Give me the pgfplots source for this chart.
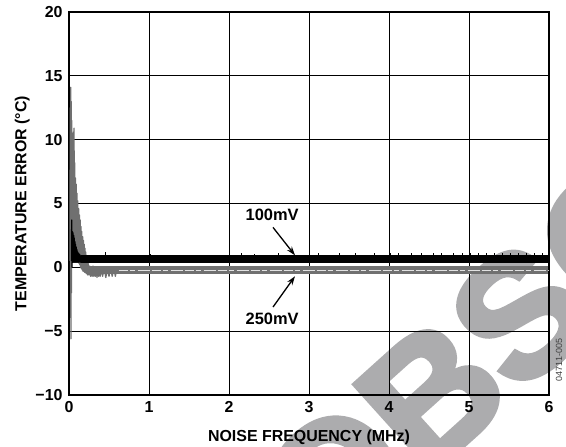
\documentclass[border=0pt]{standalone}
\usepackage{pgfplots}
\pgfplotsset{compat=1.18}
\usepackage{fontspec}
\setmainfont{Liberation Sans}
\newfontfamily\wmfont{Liberation Sans}[BoldFeatures={FakeBold=3}]
\usetikzlibrary{arrows.meta}

\definecolor{trace}{RGB}{112,112,112}
\definecolor{wmark}{RGB}{172,172,174}

\begin{document}
\begin{tikzpicture}
\path[use as bounding box] (0,0) rectangle (566bp,447bp);
\clip (0,0) rectangle (566bp,447bp);
% watermark behind the chart
\node[rotate=42, anchor=base west, text=wmark, inner sep=0pt,
      font=\wmfont\fontsize{172}{172}\selectfont\bfseries]
      at (326bp,-122bp) {OBSOLETE};
\node[rotate=90, text=black!75, font=\fontsize{9}{9}\selectfont] at (559bp,87bp) {04711-005};

\begin{axis}[
    at={(69bp,52bp)}, anchor=south west,
    scale only axis, width=480bp, height=383bp,
    xmin=0, xmax=6, ymin=-10, ymax=20,
    xtick={0,1,2,3,4,5,6},
    ytick={-10,-5,0,5,10,15,20},
    yticklabels={−10,−5,0,5,10,15,20},
    tick label style={font=\fontsize{16}{16}\selectfont\bfseries},
    label style={font=\fontsize{16}{16}\selectfont\bfseries},
    /pgf/number format/assume math mode=true,
    yticklabel style={xshift=-3bp},
    xticklabel style={yshift=-3bp},
    xlabel={NOISE FREQUENCY (MHz)},
    ylabel={TEMPERATURE ERROR (°C)},
    xlabel style={yshift=-10bp},
    ylabel style={yshift=-1bp},
    grid=major,
    major grid style={black, line width=0.8bp},
    axis line style={line width=1.4bp},
    major tick length=0pt,
]

% 250mV, early ringing
\addplot[trace, line width=1.3bp, line join=round] coordinates {
(0.012,0.5) (0.016,12.5) (0.019,-1.0) (0.021,14.1) (0.024,-5.6) (0.027,13.0)
(0.030,-2.0) (0.033,11.5) (0.036,0.5) (0.040,10.5) (0.044,1.0) (0.048,10.2)
(0.052,1.2) (0.056,10.6) (0.060,1.5) (0.063,10.9) (0.067,1.5) (0.071,8.2)
(0.075,1.2) (0.080,7.0) (0.085,1.0) (0.090,6.5) (0.095,0.8) (0.100,5.8)
(0.105,0.6) (0.110,5.2) (0.115,0.5) (0.120,4.6) (0.125,0.3) (0.130,4.1)
(0.135,0.2) (0.140,3.7) (0.145,0.0) (0.150,3.2) (0.155,-0.1) (0.160,2.8)
(0.165,-0.2) (0.170,2.4) (0.175,-0.3) (0.180,2.1) (0.185,-0.3) (0.190,1.8)
(0.195,-0.4) (0.200,1.5) (0.205,-0.4) (0.210,1.2) (0.215,-0.5) (0.220,0.9)
(0.225,-0.5) (0.230,0.6) (0.235,-0.6) (0.240,0.3) (0.250,-0.6) (0.260,0.1)
(0.270,-0.7) (0.280,0.0) (0.290,-0.7) (0.300,0.1) (0.310,-0.7) (0.320,-0.1)
(0.330,-0.7) (0.340,0.0) (0.350,-0.8) (0.360,-0.1) (0.370,-0.7) (0.380,0.0)
(0.390,-0.7) (0.400,-0.1) (0.420,-0.7) (0.440,0.0) (0.460,-0.8) (0.480,-0.1)
(0.500,-0.7) (0.520,0.0) (0.540,-0.7) (0.560,-0.1) (0.580,-0.7) (0.600,0.0)
};
% 250mV, settled band
\addplot[trace, line width=8bp] coordinates {(0.26,-0.24) (5.99,-0.24)};
\addplot[white, line width=0.9bp, opacity=0.8,
         dash pattern=on 9bp off 2bp on 5bp off 3bp on 12bp off 2bp]
    coordinates {(0.62,-0.22) (5.99,-0.22)};

% 100mV, early ringing
\addplot[black, line width=1.3bp, line join=round] coordinates {
(0.030,0.5) (0.034,3.7) (0.038,0.0) (0.042,2.8) (0.046,0.4) (0.050,2.7)
(0.054,0.4) (0.058,2.5) (0.062,0.4) (0.066,2.3) (0.070,0.4) (0.074,2.0)
(0.078,0.4) (0.082,1.8) (0.086,0.4) (0.090,1.6) (0.094,0.4) (0.098,1.4)
(0.102,0.4) (0.108,1.2) (0.114,0.4) (0.120,1.1) (0.126,0.4) (0.134,1.0)
(0.142,0.4) (0.150,0.9) (0.160,0.5) (0.175,0.9) (0.190,0.4)
};
% 100mV, settled band
\addplot[black, line width=8bp] coordinates {(0.15,0.62) (5.99,0.62)};
% 100mV, noise spikes above the band
\addplot[black, line width=1bp, unbounded coords=jump] coordinates {
(0.45,0.9) (0.45,1.2) (0.46,nan)
(1.02,0.9) (1.02,1.05) (1.03,nan)
(2.15,0.9) (2.15,1.1) (2.16,nan)
(2.32,0.9) (2.32,1.05) (2.33,nan)
(2.62,0.9) (2.62,1.1) (2.63,nan)
(3.12,0.9) (3.12,1.1) (3.13,nan)
(3.38,0.9) (3.38,1.1) (3.39,nan)
(3.58,0.9) (3.58,1.1) (3.59,nan)
(3.82,0.9) (3.82,1.1) (3.83,nan)
(4.02,0.9) (4.02,1.1) (4.03,nan)
(4.12,0.9) (4.12,1.1) (4.13,nan)
(4.28,0.9) (4.28,1.1) (4.29,nan)
(4.40,0.9) (4.40,1.1) (4.41,nan)
(4.55,0.9) (4.55,1.1) (4.56,nan)
(4.66,0.9) (4.66,1.1) (4.67,nan)
(4.80,0.9) (4.80,1.1) (4.81,nan)
(4.92,0.9) (4.92,1.1) (4.93,nan)
(5.02,0.9) (5.02,1.1) (5.03,nan)
(5.12,0.9) (5.12,1.1) (5.13,nan)
(5.22,0.9) (5.22,1.1) (5.23,nan)
(5.32,0.9) (5.32,1.1) (5.33,nan)
(5.42,0.9) (5.42,1.1) (5.43,nan)
(5.52,0.9) (5.52,1.1) (5.53,nan)
(5.62,0.9) (5.62,1.1) (5.63,nan)
(5.72,0.9) (5.72,1.1) (5.73,nan)
(5.82,0.9) (5.82,1.1) (5.83,nan)
(5.92,0.9) (5.92,1.1) (5.93,nan)
};

% annotations
\node[font=\fontsize{16.5}{16.5}\selectfont\bfseries] at (axis cs:2.54,4.15) {100mV};
\node[font=\fontsize{16.5}{16.5}\selectfont\bfseries] at (axis cs:2.54,-4.0) {250mV};
\draw[line width=1.3bp, -{Stealth[length=9bp,width=6bp]}]
    (axis cs:2.55,3.13) -- (axis cs:2.825,0.94);
\draw[line width=1.3bp, -{Stealth[length=9bp,width=6bp]}]
    (axis cs:2.55,-3.11) -- (axis cs:2.825,-0.70);
\end{axis}
\end{tikzpicture}
\end{document}
